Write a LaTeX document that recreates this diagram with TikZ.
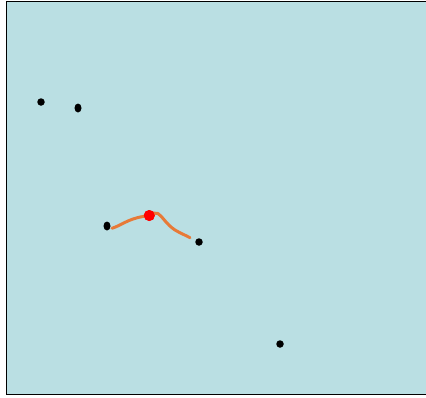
\documentclass[tikz,border=0pt]{standalone}
\usetikzlibrary{shapes.geometric}
\begin{document}
\begin{tikzpicture}[x=1pt,y=-1pt,
  dot/.style={circle,fill=black,inner sep=0pt,minimum size=7.5pt},
  oval/.style={ellipse,fill=black,inner sep=0pt,minimum width=7pt,minimum height=9pt},
  reddot/.style={circle,fill=red,inner sep=0pt,minimum size=11pt},
  track/.style={draw={rgb,255:red,236;green,112;blue,38},line width=3pt,line cap=round,line join=round,opacity=0.9}]
\definecolor{bg}{RGB}{186,223,227}
\useasboundingbox (0,0) rectangle (426,397);
\draw[fill=bg,line width=1.5pt] (6.5,1.5) rectangle (427,394.5);
\node[dot] (p1) at (41,102) {};
\node[oval] (p2) at (78,108) {};
\node[oval] (p3) at (107,226) {};
\node[dot] (p4) at (199,242) {};
\node[dot] (p5) at (280,344) {};
\coordinate (s) at (112,228.3);
\coordinate (e) at (190,237.7);
\node[reddot] (r) at (149.3,215.5) {};
\draw[track] (s) .. controls (122,225) and (128,219) .. (143,216.5)
  .. controls (150,215) and (152,212) .. (158,213.5)
  .. controls (163,217) and (166,224) .. (175,230)
  .. controls (180,233) and (185,235) .. (e);
\node[reddot] at (r) {};
\end{tikzpicture}
\end{document}
